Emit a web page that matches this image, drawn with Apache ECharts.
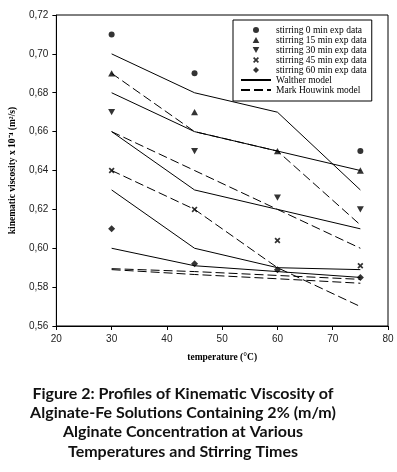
<!DOCTYPE html>
<html>
<head>
<meta charset="utf-8">
<script src="https://cdn.jsdelivr.net/npm/echarts@6/dist/echarts.min.js"></script>
<style>
  html, body { margin: 0; padding: 0; background: #fff; }
  #main { width: 397px; height: 472px; }
</style>
</head>
<body>
<div id="main"></div>
<script>
// temperatures (°C) at which the samples were measured
var temps = [30, 45, 60, 75];

// experimental kinematic viscosity x 10^-4 (m2/s)
var stir0 = [0.71, 0.69, null, 0.65];
var stir15 = [0.69, 0.67, 0.65, 0.64];
var stir30 = [0.67, 0.65, 0.626, 0.62];
var stir45 = [0.64, 0.62, 0.604, 0.591];
var stir60 = [0.61, 0.592, 0.589, 0.585];

// model curves
var walther = [
  [0.70, 0.68, 0.67, 0.63],
  [0.68, 0.66, 0.65, 0.64],
  [0.66, 0.63, 0.62, 0.61],
  [0.63, 0.60, 0.59, 0.589],
  [0.60, 0.591, 0.588, 0.585]
];
var markHouwink = [
  [0.69, 0.66, 0.65, 0.612],
  [0.66, 0.64, 0.62, 0.60],
  [0.64, 0.62, 0.59, 0.57],
  [0.5895, 0.588, 0.586, 0.584],
  [0.589, 0.5865, 0.5843, 0.582]
];

var xTicks = { min: 20, max: 80, step: 10 };
var yTicks = { min: 0.56, max: 0.72, step: 0.02 };

var caption = 'Figure 2: Profiles of Kinematic Viscosity of\n' +
  'Alginate-Fe Solutions Containing 2% (m/m)\n' +
  'Alginate Concentration at Various\n' +
  'Temperatures and Stirring Times';

// symbols as paths so the legend keeps their shape
var circlePath = 'path://M5,0A5,5,0,1,1,5,10A5,5,0,1,1,5,0Z';
var triPath = 'path://M5,0L10,9L0,9Z';
var downTriPath = 'path://M0,0L10,0L5,9Z';
var crossPath = 'path://M0,2L2,0L5,3L8,0L10,2L7,5L10,8L8,10L5,7L2,10L0,8L3,5Z';
var diamondPath = 'path://M5,0L10,5L5,10L0,5Z';

function pairs(vals) {
  var out = [];
  for (var i = 0; i < temps.length; i++) {
    if (vals[i] != null) out.push([temps[i], vals[i]]);
  }
  return out;
}

function scatter(name, vals, symbol, size) {
  return {
    name: name,
    type: 'scatter',
    data: pairs(vals),
    symbol: symbol,
    symbolSize: size,
    symbolKeepAspect: true,
    itemStyle: { color: '#000' },
    z: 5
  };
}

function modelLine(name, vals, dashed) {
  return {
    name: name,
    type: 'line',
    data: pairs(vals),
    symbol: 'none',
    silent: true,
    itemStyle: { color: 'rgba(0,0,0,0)' },
    lineStyle: { color: '#000', width: 1, type: dashed ? [9, 4] : 'solid' },
    z: 3
  };
}

var series = [
  scatter('stirring 0 min exp data', stir0, circlePath, 6),
  scatter('stirring 15 min exp data', stir15, triPath, 7),
  scatter('stirring 30 min exp data', stir30, downTriPath, 7),
  scatter('stirring 45 min exp data', stir45, crossPath, 6),
  scatter('stirring 60 min exp data', stir60, diamondPath, 7)
];
walther.forEach(function (v) { series.push(modelLine('Walther model', v, false)); });
markHouwink.forEach(function (v) { series.push(modelLine('Mark Houwink model', v, true)); });

var chart = echarts.init(document.getElementById('main'));

var option = {
  backgroundColor: '#fff',
  animation: false,
  grid: {
    left: 52, top: 15, right: 9, bottom: 146,
    show: true, borderColor: '#000', borderWidth: 1
  },
  legend: {
    left: 233, top: 20,
    orient: 'vertical',
    padding: [5, 5, 6, 7],
    itemWidth: 30, itemHeight: 6, itemGap: 0,
    symbolKeepAspect: true,
    borderColor: '#000', borderWidth: 1,
    data: ['stirring 0 min exp data', 'stirring 15 min exp data', 'stirring 30 min exp data',
      'stirring 45 min exp data', 'stirring 60 min exp data', 'Walther model', 'Mark Houwink model'],
    textStyle: { fontFamily: 'Liberation Serif', fontSize: 9.5, lineHeight: 9.7, color: '#000' }
  },
  xAxis: {
    type: 'value',
    min: xTicks.min, max: xTicks.max, interval: xTicks.step,
    name: 'temperature (°C)',
    nameLocation: 'middle',
    nameGap: 27,
    nameTextStyle: { fontFamily: 'Liberation Serif', fontWeight: 'bold', fontSize: 9.5, color: '#000' },
    axisLine: { lineStyle: { color: '#000', width: 1 } },
    axisTick: { length: 4, lineStyle: { color: '#000' } },
    axisLabel: { fontFamily: 'Liberation Sans', fontSize: 10, color: '#222', margin: 8 },
    splitLine: { show: false }
  },
  yAxis: {
    type: 'value',
    min: yTicks.min, max: yTicks.max, interval: yTicks.step,
    name: 'kinematic viscosity x 10⁻⁴ (m²/s)',
    nameLocation: 'middle',
    nameGap: 33,
    nameRotate: 90,
    nameTextStyle: { fontFamily: 'Liberation Serif', fontWeight: 'bold', fontSize: 9.5, color: '#000' },
    axisLine: { show: true, lineStyle: { color: '#000', width: 1 } },
    axisTick: { show: true, length: 4, lineStyle: { color: '#000' } },
    axisLabel: {
      fontFamily: 'Liberation Sans', fontSize: 10, color: '#222', margin: 8,
      formatter: function (v) { return v.toFixed(2).replace('.', ','); }
    },
    splitLine: { show: false }
  },
  graphic: [{
    type: 'text',
    x: 183,
    y: 384,
    style: {
      text: caption,
      textAlign: 'center',
      font: 'bold 16px Lato',
      lineHeight: 19.3,
      fill: '#111'
    }
  }],
  series: series
};

chart.setOption(option);
</script>
</body>
</html>
